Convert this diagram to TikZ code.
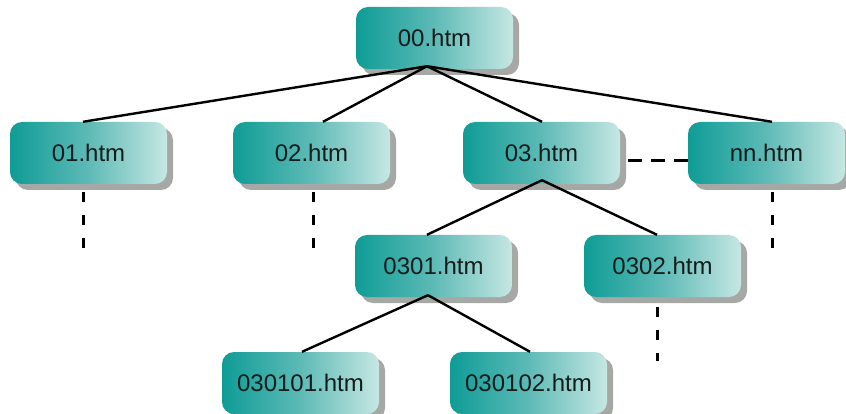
\documentclass[tikz,border=0pt]{standalone}
\usepackage{fontspec}
\setmainfont{Liberation Sans}
\usetikzlibrary{shadows}
\definecolor{tealdark}{HTML}{0F9C96}
\definecolor{tealmid}{HTML}{5EBAB6}
\definecolor{teallight}{HTML}{C6E7E3}
\definecolor{shadowgray}{HTML}{A6A8A6}
\definecolor{txt}{HTML}{141C1C}
\tikzset{
  page/.style={x=1pt,y=-1pt},
  filebox/.style={rectangle, rounded corners=12pt, minimum width=157pt, minimum height=62pt,
    inner sep=0pt, left color=tealdark, right color=teallight, middle color=tealmid,
    drop shadow={shadow xshift=6pt, shadow yshift=-6pt, fill=shadowgray, opacity=1},
    text=txt, font=\fontsize{24}{28}\selectfont},
  link/.style={draw=black, line width=2.4pt},
  vdash/.style={draw=black, line width=3pt, dash pattern=on 10pt off 13pt},
  hdash/.style={draw=black, line width=3pt, dash pattern=on 14pt off 9pt}
}
\begin{document}
\begin{tikzpicture}[page]
\clip (0,0) rectangle (846,414);
\fill[white] (0,0) rectangle (846,414);
% nodes
\node[filebox] (n00) at (434.5,38) {00.htm};
\node[filebox] (n01) at (88.5,153) {01.htm};
\node[filebox] (n02) at (311.5,153) {02.htm};
\node[filebox] (n03) at (541.5,153) {03.htm};
\node[filebox] (nnn) at (766.5,153) {nn.htm};
\node[filebox] (n0301) at (433.5,266) {0301.htm};
\node[filebox] (n0302) at (662.5,266) {0302.htm};
\node[filebox] (n030101) at (300.5,383) {030101.htm};
\node[filebox] (n030102) at (528.5,383) {030102.htm};
% solid links
\draw[link] ([xshift=-7.5pt,yshift=3pt]n00.south) -- ([xshift=-5.5pt]n01.north);
\draw[link] ([xshift=-7.5pt,yshift=3pt]n00.south) -- ([xshift=11.5pt]n02.north);
\draw[link] ([xshift=-7.5pt,yshift=3pt]n00.south) -- ([xshift=0.5pt]n03.north);
\draw[link] ([xshift=-7.5pt,yshift=3pt]n00.south) -- ([xshift=5.5pt]nnn.north);
\draw[link] ([xshift=0.5pt,yshift=4pt]n03.south) -- ([xshift=-6.5pt]n0301.north);
\draw[link] ([xshift=0.5pt,yshift=4pt]n03.south) -- ([xshift=-5.5pt]n0302.north);
\draw[link] ([xshift=-5.5pt,yshift=2pt]n0301.south) -- ([xshift=1.5pt]n030101.north);
\draw[link] ([xshift=-5.5pt,yshift=2pt]n0301.south) -- ([xshift=1.5pt]n030102.north);
% dashed continuation ends
\coordinate (e01) at (83,248);
\coordinate (e02) at (313,248);
\coordinate (enn) at (772,248);
\coordinate (e0302) at (657,361);
\draw[vdash] ([xshift=-5.5pt,yshift=-8pt]n01.south) -- (e01);
\draw[vdash] ([xshift=1.5pt,yshift=-8pt]n02.south) -- (e02);
\draw[vdash] ([xshift=5.5pt,yshift=-8pt]nnn.south) -- (enn);
\draw[vdash] ([xshift=-5.5pt,yshift=-10pt]n0302.south) -- (e0302);
\draw[hdash] ([xshift=8pt,yshift=-8pt]n03.east) -- ([yshift=-8pt]nnn.west);
\end{tikzpicture}
\end{document}
